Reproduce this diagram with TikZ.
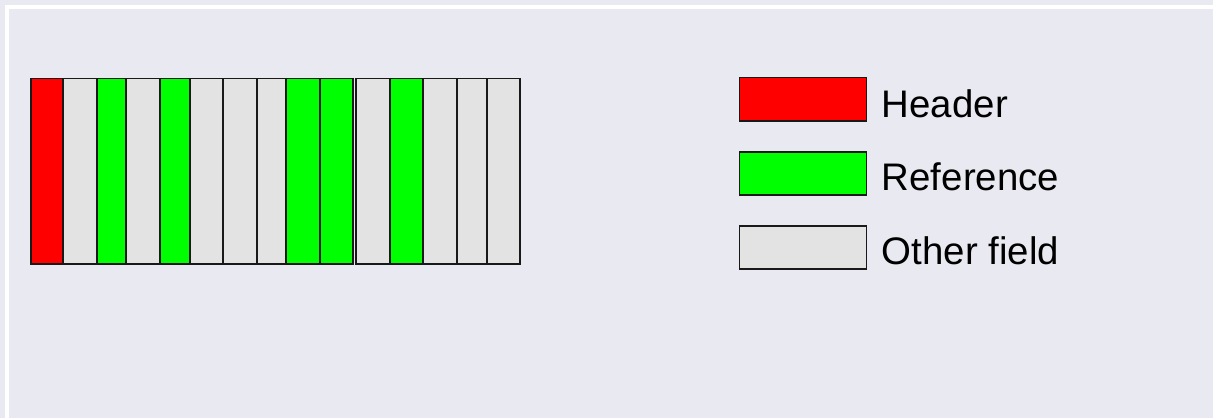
\documentclass[tikz,border=0pt]{standalone}
\usepackage{fontspec}
\setmainfont{Liberation Sans}
\definecolor{bgc}{HTML}{E9E9F2}
\definecolor{hdr}{HTML}{FF0000}
\definecolor{refc}{HTML}{00FF00}
\definecolor{oth}{HTML}{E3E3E3}
\tikzset{
  fieldbox/.style={draw=black!90, line width=1.7pt, inner sep=0pt, outer sep=0pt},
  legbox/.style={fieldbox, minimum width=127pt, minimum height=43.5pt},
  legtext/.style={anchor=base west, inner sep=0pt, font=\fontsize{38.4}{44}\selectfont},
}
\begin{document}
\begin{tikzpicture}[x=1pt,y=-1pt]
\useasboundingbox (0,0) rectangle (1213,418);
\fill[bgc] (0,0) rectangle (1213,418);
\fill[white] (5,5) rectangle (1213,9);
\fill[white] (5,5) rectangle (9,418);
% bars: left x, right x, colour
\foreach \a/\b/\c [count=\i] in {30.7/63.3/hdr, 63.3/96.7/oth, 96.7/126.3/refc, 126.3/160.3/oth, 160.3/189.7/refc, 189.7/223.3/oth, 223.3/256.7/oth, 256.7/286/oth, 286/319.7/refc, 319.7/353.3/refc, 356.3/390/oth, 390/423.3/refc, 423.3/457/oth, 457/486.7/oth, 486.7/520.3/oth}{
  \pgfmathsetmacro\w{\b-\a}
  \node[fieldbox, fill=\c, minimum width=\w pt, minimum height=185.5pt] (f\i) at ({(\a+\b)/2},171.25) {};
}
% legend
\node[legbox, fill=hdr] (lh) at (803,99.2) {};
\node[legbox, fill=refc] (lr) at (803,173.4) {};
\node[legbox, fill=oth] (lo) at (803,247.4) {};
\node[legtext] (th) at (881.7,117.3) {Header};
\node[legtext] (tr) at (881.7,190.7) {Reference};
\node[legtext] (to) at (881.7,264.3) {Other field};
\end{tikzpicture}
\end{document}
